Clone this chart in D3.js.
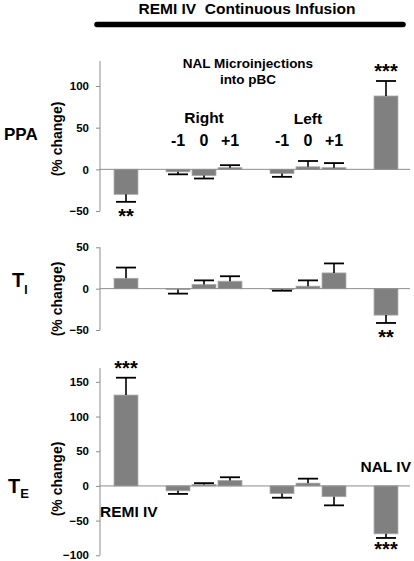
<!DOCTYPE html>
<html>
<head>
<meta charset="utf-8">
<script src="https://cdn.jsdelivr.net/npm/d3@7"></script>
<style>
  html, body { margin: 0; padding: 0; background: #fff; }
  svg { display: block; font-family: "Liberation Sans", Arial, sans-serif; font-weight: bold; }
  .pre { white-space: pre; }
</style>
</head>
<body>
<svg id="chart" width="414" height="561"></svg>
<script>
// ---- data ----
const slots = ["REMI IV", "gap1", "Right -1", "Right 0", "Right +1", "gap2", "Left -1", "Left 0", "Left +1", "gap3", "NAL IV"];
const categories = ["REMI IV", "Right -1", "Right 0", "Right +1", "Left -1", "Left 0", "Left +1", "NAL IV"];
const ppaValues = [-30, -3, -7.5, 2, -5, 3, 2, 88];
const ppaErrors = [9, 3, 3.5, 3, 4, 7, 5.5, 18];
const tiValues = [12.5, -1, 5, 9, -1, 3, 19, -32];
const tiErrors = [13, 5, 5, 6, 1.5, 7, 11.5, 9.5];
const teValues = [131, -7, 2, 8, -11, 4, -15.5, -69];
const teErrors = [25, 4.5, 2, 4.5, 6, 6.5, 12.5, 6];
const ppaTicks = [-50, 0, 50, 100];
const tiTicks = [-50, 0, 50];
const teTicks = [-100, -50, 0, 50, 100, 150];
const ppaStars = [{i: 0, text: "**", side: "below"}, {i: 7, text: "***", side: "above"}];
const tiStars = [{i: 7, text: "**", side: "below"}];
const teStars = [{i: 0, text: "***", side: "above"}, {i: 7, text: "***", side: "below"}];
const groupLabels = ["-1", "0", "+1"];

// ---- drawing ----
const svg = d3.select("#chart");
const W = 414, H = 561;
const axisX = 100, baseEnd = 410;
const x = d3.scaleBand().domain(slots).range([113, 399]).paddingInner(0.08).paddingOuter(0.04);
const barFill = "#808080", axisCol = "#8c8c8c";

function panel(values, errors, domain, range, ticks, stars) {
  const y = d3.scaleLinear().domain(domain).range(range);
  const g = svg.append("g");
  const ax = g.append("g").attr("transform", `translate(${axisX},0)`)
    .call(d3.axisLeft(y).tickValues(ticks).tickSize(4).tickPadding(7).tickFormat(d3.format("d")));
  ax.select(".domain").attr("stroke", axisCol).attr("d", `M0,${range[0]}V${range[1]}`);
  ax.selectAll(".tick line").attr("stroke", axisCol);
  ax.selectAll(".tick text").attr("fill", "#000").attr("font-size", 11.5).attr("font-weight", "bold")
    .attr("font-family", '"Liberation Sans", Arial, sans-serif');

  const data = categories.map((c, i) => ({c, v: values[i], e: errors[i]}));
  g.selectAll("rect.bar").data(data).join("rect").attr("class", "bar")
    .attr("x", d => x(d.c)).attr("width", x.bandwidth())
    .attr("y", d => y(Math.max(0, d.v))).attr("height", d => Math.abs(y(d.v) - y(0)))
    .attr("fill", barFill).attr("stroke", "#a8a8a8").attr("stroke-width", 0.8);

  // zero line
  g.append("line").attr("x1", axisX).attr("x2", baseEnd).attr("y1", y(0)).attr("y2", y(0))
    .attr("stroke", axisCol).attr("stroke-width", 1);

  // error bars
  const eg = g.selectAll("g.err").data(data).join("g").attr("class", "err");
  const cx = d => x(d.c) + x.bandwidth() / 2;
  const ee = d => d.v + (d.v >= 0 ? d.e : -d.e);
  eg.append("line").attr("x1", cx).attr("x2", cx).attr("y1", d => y(d.v)).attr("y2", d => y(ee(d)))
    .attr("stroke", "#000").attr("stroke-width", 1.6);
  eg.append("line").attr("x1", d => cx(d) - 10).attr("x2", d => cx(d) + 10)
    .attr("y1", d => y(ee(d))).attr("y2", d => y(ee(d))).attr("stroke", "#000").attr("stroke-width", 1.8);

  g.selectAll("text.star").data(stars).join("text").attr("class", "star")
    .attr("x", s => cx(data[s.i]))
    .attr("y", s => {
      const ey = y(ee(data[s.i]));
      return s.side === "above" ? ey - 3 : Math.min(ey + 21, H - 5);
    })
    .attr("text-anchor", "middle").attr("font-size", 20).text(s => s.text);
  return y;
}

// title and infusion bar
svg.append("text").attr("class", "pre").attr("x", 247).attr("y", 14).attr("text-anchor", "middle").attr("font-size", 15.5)
  .text("REMI IV  Continuous Infusion");
svg.append("line").attr("x1", 97).attr("x2", 403).attr("y1", 24.5).attr("y2", 24.5)
  .attr("stroke", "#000").attr("stroke-width", 5.5).attr("stroke-linecap", "round");

panel(ppaValues, ppaErrors, [-50, 130], [211, 61], ppaTicks, ppaStars);
panel(tiValues, tiErrors, [-50, 50], [330, 247.3], tiTicks, tiStars);
panel(teValues, teErrors, [-100, 170], [555.3, 368], teTicks, teStars);

// annotations
svg.append("text").attr("x", 248).attr("y", 68).attr("text-anchor", "middle").attr("font-size", 13.5).text("NAL Microinjections");
svg.append("text").attr("x", 248).attr("y", 84).attr("text-anchor", "middle").attr("font-size", 13.5).text("into pBC");
const rc = x("Right 0") + x.bandwidth() / 2, lc = x("Left 0") + x.bandwidth() / 2;
svg.append("text").attr("x", rc).attr("y", 123).attr("text-anchor", "middle").attr("font-size", 15.5).text("Right");
svg.append("text").attr("x", lc).attr("y", 124).attr("text-anchor", "middle").attr("font-size", 15.5).text("Left");
[["Right -1", "Right 0", "Right +1"], ["Left -1", "Left 0", "Left +1"]].forEach(grp => {
  grp.forEach((c, k) => {
    svg.append("text").attr("x", x(c) + x.bandwidth() / 2).attr("y", 146).attr("text-anchor", "middle")
      .attr("font-size", 16).text(groupLabels[k]);
  });
});
svg.append("text").attr("x", 100).attr("y", 517).attr("font-size", 15.5).text("REMI IV");
svg.append("text").attr("x", 411).attr("y", 472).attr("text-anchor", "end").attr("font-size", 15.5).text("NAL IV");

// panel labels
svg.append("text").attr("x", 4).attr("y", 140).attr("font-size", 17).text("PPA");
const tI = svg.append("text").attr("x", 12).attr("y", 287).attr("font-size", 20);
tI.append("tspan").text("T");
tI.append("tspan").attr("font-size", 12).attr("dy", 7).text("I");
const tE = svg.append("text").attr("x", 8).attr("y", 493).attr("font-size", 20);
tE.append("tspan").text("T");
tE.append("tspan").attr("font-size", 13).attr("dy", 5).text("E");

// y-axis titles
[139, 299, 479].forEach(cy => {
  svg.append("text").attr("transform", `translate(57,${cy}) rotate(-90)`).attr("text-anchor", "middle")
    .attr("dominant-baseline", "central").attr("font-size", 14).text("(% change)");
});
</script>
</body>
</html>
